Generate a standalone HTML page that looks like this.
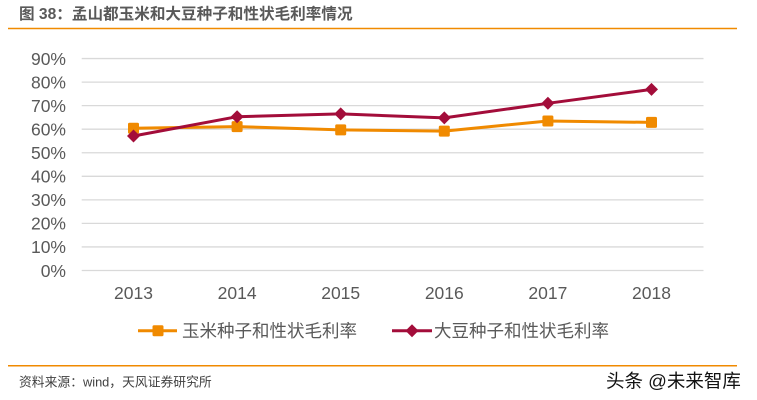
<!DOCTYPE html>
<html><head><meta charset="utf-8"><style>
html,body{margin:0;padding:0;background:#fff;}
svg{display:block;}
</style></head><body>
<svg width="757" height="400" viewBox="0 0 757 400" xmlns="http://www.w3.org/2000/svg">
<rect width="757" height="400" fill="#fff"/>
<text x="19" y="19" font-family="Liberation Sans, Noto Sans CJK SC, sans-serif" font-size="15.6" font-weight="bold" fill="#595959">图 38：孟山都玉米和大豆种子和性状毛利率情况</text>
<line x1="8" y1="28.5" x2="737" y2="28.5" stroke="#F08A00" stroke-width="1.5"/>
<g stroke="#d9d9d9" stroke-width="1.3">
<line x1="81.7" y1="270.5" x2="703.5" y2="270.5"/>
<line x1="81.7" y1="246.95" x2="703.5" y2="246.95"/>
<line x1="81.7" y1="223.4" x2="703.5" y2="223.4"/>
<line x1="81.7" y1="199.85" x2="703.5" y2="199.85"/>
<line x1="81.7" y1="176.3" x2="703.5" y2="176.3"/>
<line x1="81.7" y1="152.75" x2="703.5" y2="152.75"/>
<line x1="81.7" y1="129.2" x2="703.5" y2="129.2"/>
<line x1="81.7" y1="105.65" x2="703.5" y2="105.65"/>
<line x1="81.7" y1="82.1" x2="703.5" y2="82.1"/>
<line x1="81.7" y1="58.55" x2="703.5" y2="58.55"/>
</g>
<g font-family="Liberation Sans, sans-serif" font-size="17.5" fill="#595959" text-anchor="end">
<text x="66" y="276.8">0%</text>
<text x="66" y="253.2">10%</text>
<text x="66" y="229.7">20%</text>
<text x="66" y="206.1">30%</text>
<text x="66" y="182.6">40%</text>
<text x="66" y="159">50%</text>
<text x="66" y="135.5">60%</text>
<text x="66" y="111.9">70%</text>
<text x="66" y="88.4">80%</text>
<text x="66" y="64.8">90%</text>
</g>
<g font-family="Liberation Sans, sans-serif" font-size="17.5" fill="#595959" text-anchor="middle">
<text x="133.5" y="299">2013</text>
<text x="237.1" y="299">2014</text>
<text x="340.7" y="299">2015</text>
<text x="444.3" y="299">2016</text>
<text x="547.9" y="299">2017</text>
<text x="651.5" y="299">2018</text>
</g>
<polyline points="133.5,128.3 237.1,126.6 340.7,129.9 444.3,131.1 547.9,121 651.5,122.4" fill="none" stroke="#F08A00" stroke-width="3" stroke-linejoin="round"/>
<g fill="#F08A00">
<rect x="128" y="122.8" width="11" height="11" rx="1.5"/>
<rect x="231.6" y="121.1" width="11" height="11" rx="1.5"/>
<rect x="335.2" y="124.4" width="11" height="11" rx="1.5"/>
<rect x="438.8" y="125.6" width="11" height="11" rx="1.5"/>
<rect x="542.4" y="115.5" width="11" height="11" rx="1.5"/>
<rect x="646" y="116.9" width="11" height="11" rx="1.5"/>
</g>
<polyline points="133.5,136 237.1,116.7 340.7,113.9 444.3,117.9 547.9,103.3 651.5,89.4" fill="none" stroke="#A30D3A" stroke-width="3" stroke-linejoin="round"/>
<g fill="#A30D3A">
<polygon points="133.5,129.5 140,136 133.5,142.5 127,136"/>
<polygon points="237.1,110.2 243.6,116.7 237.1,123.2 230.6,116.7"/>
<polygon points="340.7,107.4 347.2,113.9 340.7,120.4 334.2,113.9"/>
<polygon points="444.3,111.4 450.8,117.9 444.3,124.4 437.8,117.9"/>
<polygon points="547.9,96.8 554.4,103.3 547.9,109.8 541.4,103.3"/>
<polygon points="651.5,82.9 658,89.4 651.5,95.9 645,89.4"/>
</g>
<line x1="138" y1="330.7" x2="177" y2="330.7" stroke="#F08A00" stroke-width="3"/>
<rect x="152.5" y="325.2" width="11" height="11" rx="1.5" fill="#F08A00"/>
<text x="182" y="337" font-family="Liberation Sans, Noto Sans CJK SC, sans-serif" font-size="17.5" fill="#595959">玉米种子和性状毛利率</text>
<line x1="392" y1="330.7" x2="432" y2="330.7" stroke="#A30D3A" stroke-width="3"/>
<polygon points="412,324.2 418.5,330.7 412,337.2 405.5,330.7" fill="#A30D3A"/>
<text x="434" y="337" font-family="Liberation Sans, Noto Sans CJK SC, sans-serif" font-size="17.5" fill="#595959">大豆种子和性状毛利率</text>
<line x1="8" y1="365.8" x2="737" y2="365.8" stroke="#F08A00" stroke-width="1.5"/>
<text x="19" y="386.3" font-family="Liberation Sans, Noto Sans CJK SC, sans-serif" font-size="12.8" fill="#404040">资料来源：wind，天风证券研究所</text>
<text x="606" y="387.5" font-family="Liberation Sans, Noto Sans CJK SC, sans-serif" font-size="18.5" fill="#111">头条 @未来智库</text>
</svg>
</body></html>
